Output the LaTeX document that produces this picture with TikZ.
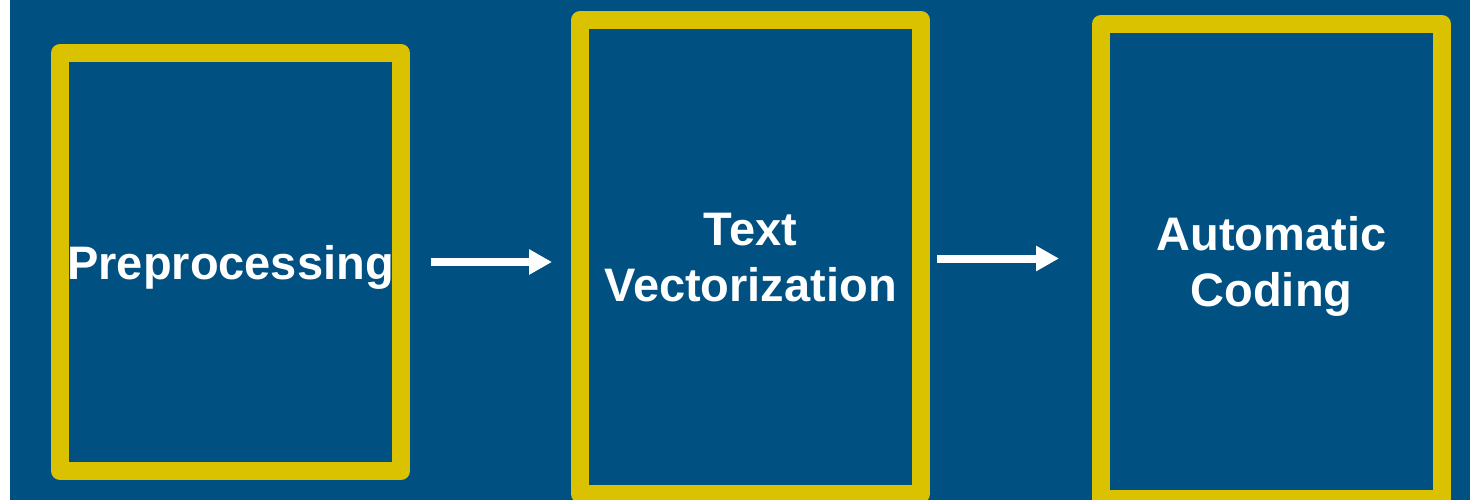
\documentclass[tikz,border=0pt]{standalone}
\usepackage{fontspec}
\setmainfont{Liberation Sans}
\usetikzlibrary{arrows.meta}
\definecolor{bgblue}{RGB}{0,81,130}
\definecolor{frameyellow}{RGB}{218,194,0}
\newcommand{\nodepth}[2][0pt]{\raisebox{0pt}[\height][#1]{#2}}
\tikzset{
  stagebox/.style={draw=frameyellow, line width=18pt, line join=round, fill=bgblue,
    minimum width=341pt, inner sep=0pt, align=center, text=white,
    font=\fontsize{47}{56}\selectfont\bfseries},
  flowarrow/.style={draw=white, line width=8pt, -{Triangle[length=23pt,width=24pt]}}
}
\begin{document}
\begin{tikzpicture}[x=1pt,y=-1pt]
\useasboundingbox (0,0) rectangle (1470,500);
\fill[white] (0,0) rectangle (10,500);
\fill[bgblue] (10,0) rectangle (1470,500);
\begin{scope}
\clip (0,0) rectangle (1470,500);
\node[stagebox, minimum height=418pt] (b1) at (230.5,262) {\nodepth{Preprocessing}};
\node[stagebox, minimum height=474pt] (b2) at (750.5,257) {Text\\\nodepth[-5pt]{Vectorization}};
\node[stagebox, minimum height=475pt] (b3) at (1271.5,261.5) {Automatic\\\nodepth[-2pt]{Coding}};
\end{scope}
\draw[flowarrow, shorten <=21pt, shorten >=19pt] (b1.east) -- (b1.east -| b2.west);
\draw[flowarrow, shorten <=7pt, shorten >=33pt] ([yshift=-1.5pt]b2.east) -- ([yshift=-1.5pt]b2.east -| b3.west);
\end{tikzpicture}
\end{document}
